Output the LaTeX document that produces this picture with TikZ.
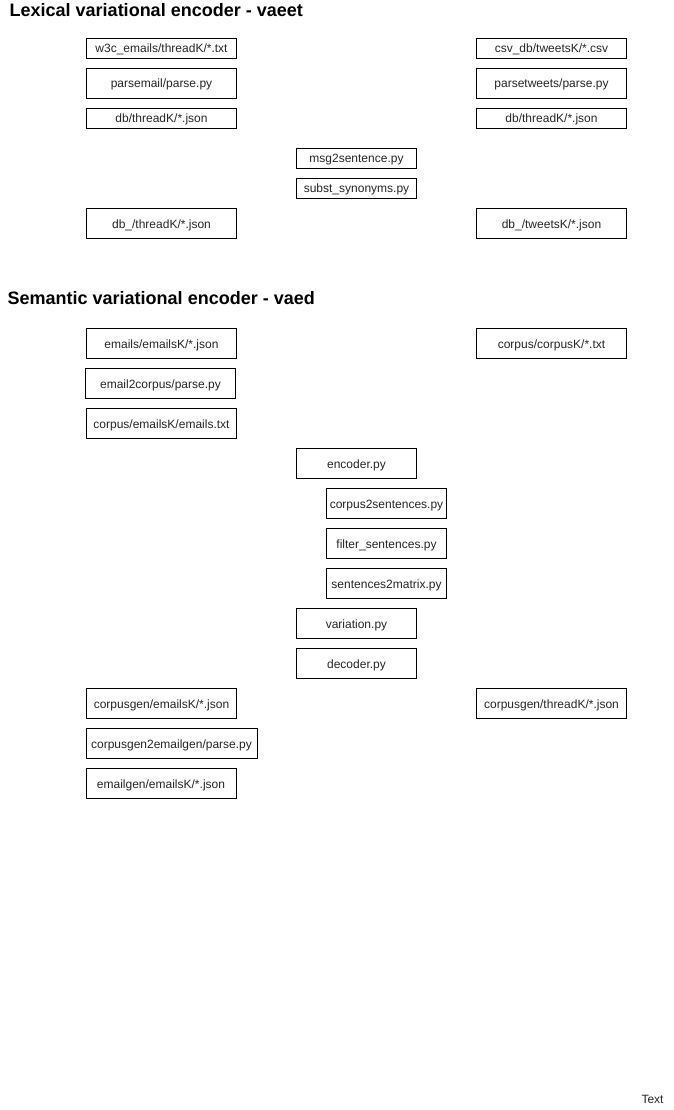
\documentclass[tikz,border=0pt]{standalone}
\usepackage{fontspec}
\setmainfont{Liberation Sans}
\begin{document}
\begin{tikzpicture}[x=1pt,y=-1pt,
  box/.style={draw, line width=0.9pt, inner sep=0pt, text height=9pt, text depth=0pt, font=\fontsize{12}{14}\selectfont, text=black!85},
  wide/.style={minimum width=150pt},
  narrow/.style={minimum width=120pt},
  tall/.style={minimum height=30pt},
  short/.style={minimum height=20pt},
  ttl/.style={anchor=west, inner sep=0pt, font=\fontsize{18}{21}\selectfont\bfseries}]
\useasboundingbox (0,0) rectangle (673,1110);
% Lexical
\node[ttl] (t1) at (9.5,10.5) {Lexical variational encoder - vaeet};
\node[box,wide,short] (w3c) at (161.5,48.5) {w3c\_emails/threadK/*.txt};
\node[box,wide,tall] (parsemail) at (161.5,83.5) {parsemail/parse.py};
\node[box,wide,short] (dbthread) at (161.5,118.5) {db/threadK/*.json};
\node[box,narrow,short] (msg) at (356.5,158.5) {msg2sentence.py};
\node[box,narrow,short] (subst) at (356.5,188.5) {subst\_synonyms.py};
\node[box,wide,tall] (dbuthread) at (161.5,223.5) {db\_/threadK/*.json};
\node[box,wide,short] (csv) at (551.5,48.5) {csv\_db/tweetsK/*.csv};
\node[box,wide,tall] (parsetweets) at (551.5,83.5) {parsetweets/parse.py};
\node[box,wide,short] (dbthreadb) at (551.5,118.5) {db/threadK/*.json};
\node[box,wide,tall] (dbutweets) at (551.5,223.5) {db\_/tweetsK/*.json};
% Semantic
\node[ttl] (t2) at (7.5,298) {Semantic variational encoder - vaed};
\node[box,wide,tall] (emails) at (161.5,343.5) {emails/emailsK/*.json};
\node[box,wide,tall] (e2c) at (160.5,383.5) {email2corpus/parse.py};
\node[box,wide,tall] (cemails) at (161.5,423.5) {corpus/emailsK/emails.txt};
\node[box,wide,tall] (ccorpus) at (551.5,343.5) {corpus/corpusK/*.txt};
\node[box,narrow,tall] (enc) at (356.5,463.5) {encoder.py};
\node[box,narrow,tall] (c2s) at (386.5,503.5) {corpus2sentences.py};
\node[box,narrow,tall] (filt) at (386.5,543.5) {filter\_sentences.py};
\node[box,narrow,tall] (s2m) at (386.5,583.5) {sentences2matrix.py};
\node[box,narrow,tall] (var) at (356.5,623.5) {variation.py};
\node[box,narrow,tall] (dec) at (356.5,663.5) {decoder.py};
\node[box,wide,tall] (cgemails) at (161.5,703.5) {corpusgen/emailsK/*.json};
\node[box,tall,minimum width=171pt] (cg2eg) at (171.5,743.5) {corpusgen2emailgen/parse.py};
\node[box,wide,tall] (egemails) at (161,783.5) {emailgen/emailsK/*.json};
\node[box,wide,tall] (cgthread) at (551.5,703.5) {corpusgen/threadK/*.json};
\node[inner sep=0pt, font=\fontsize{12}{14}\selectfont, text=black!85] (txt) at (652.5,1099.5) {Text};
\end{tikzpicture}
\end{document}
